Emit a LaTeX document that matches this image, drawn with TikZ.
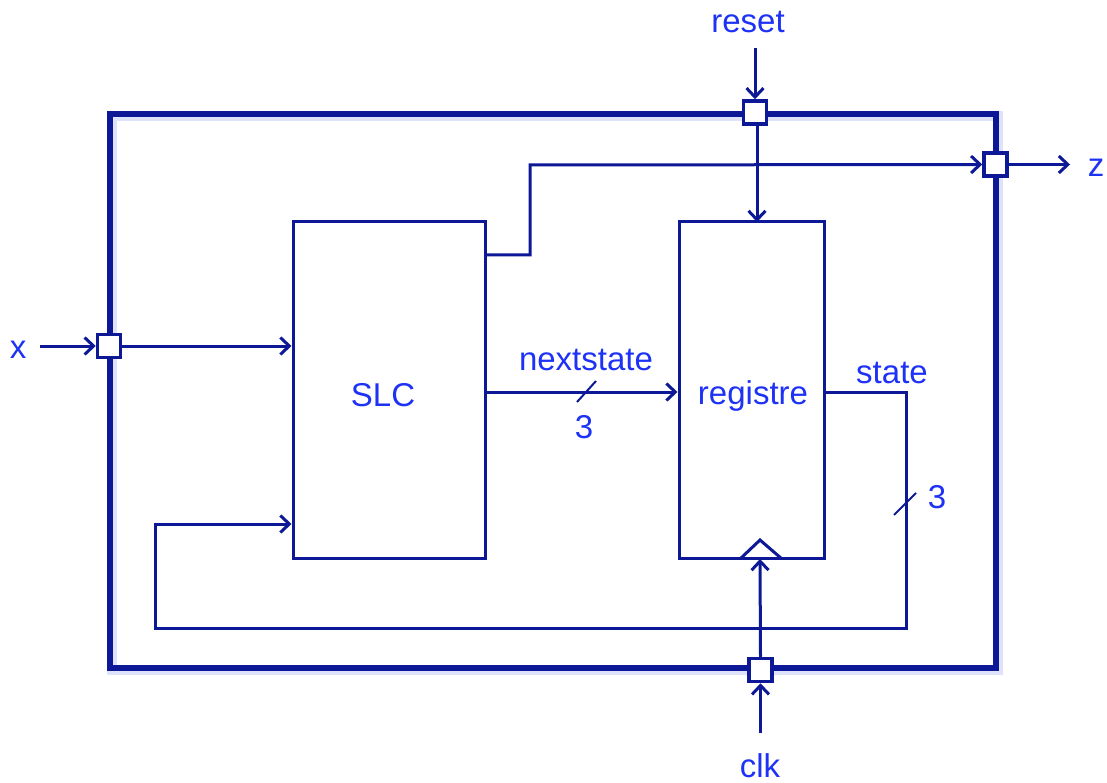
\documentclass[tikz,border=0pt]{standalone}
\usepackage{fontspec}
\setmainfont{Liberation Sans}
\usetikzlibrary{arrows.meta}
\definecolor{linecol}{RGB}{12,24,150}
\definecolor{textcol}{RGB}{30,50,245}
\definecolor{glowcol}{RGB}{222,226,250}
\tikzset{
  lbl/.style={text=textcol,font=\fontsize{33}{36}\selectfont,inner sep=0pt},
  blk/.style={draw=linecol,line width=3pt,fill=white,inner sep=0pt},
  port/.style={draw=linecol,line width=3.5pt,fill=white,minimum size=23pt,inner sep=0pt},
  wire/.style={draw=linecol,line width=3pt},
  arr/.style={wire,-{Straight Barb[length=9pt,width=17pt,line width=3pt]}},
  frame/.style={draw=linecol,line width=6.5pt},
  glow/.style={draw=glowcol,line width=10pt},
  slash/.style={draw=linecol,line width=2pt}
}
\begin{document}
\begin{tikzpicture}[x=1pt,y=-1pt]
\useasboundingbox (0,0) rectangle (1107,783);
% outer frame with soft shadow
\draw[glow] (112,116) rectangle (998,670);
\draw[frame] (110,114) rectangle (996,668);
% blocks
\node[blk,minimum width=192pt,minimum height=336pt] (slc) at (389,390) {};
\node[lbl] at (383,395) {SLC};
\node[blk,minimum width=145pt,minimum height=336pt] (reg) at (751.5,390) {};
\node[lbl] at (753,396) {registre};
% clock triangle
\coordinate (clktri) at (760,559);
\draw[wire,line join=miter] (740,559) -- (760,540) -- (782,559);
% ports
\node[port] (rp) at (755,112.5) {};
\node[port] (zp) at (995.5,164.5) {};
\node[port] (xp) at (109,346) {};
\node[port] (cp) at (760.5,670) {};
% external labels
\node[lbl] (resetl) at (748,22) {reset};
\node[lbl] (zl) at (1096,168) {z};
\node[lbl] (xl) at (18,350) {x};
\node[lbl] (clkl) at (760,766) {clk};
\coordinate (resetin) at (755,48);
\coordinate (xin) at (40,346);
\coordinate (zout) at (1070,164.5);
\coordinate (clkin) at (760.5,733);
% reset
\draw[arr] (resetin) -- (rp.north);
\draw[arr] (757,125) -- (757,222);
% x
\draw[arr] (xin) -- (xp.west);
\draw[arr] (xp.east) -- (xp.east -| slc.west);
% z
\coordinate (zbend1) at (530,255);
\coordinate (zbend2) at (530,165);
\draw[arr] (zbend1 -| slc.east) -- (zbend1) -- (zbend2) -- (zp.west);
\draw[arr] (zp.east) -- (zout);
% nextstate
\coordinate (nsy) at (0,392);
\draw[arr] (nsy -| slc.east) -- (nsy -| reg.west);
\draw[slash] (577,402) -- (596,381);
\node[lbl] at (586,360) {nextstate};
\node[lbl] at (584,427) {3};
% state feedback
\coordinate (st1) at (906,392);
\coordinate (st2) at (906,628);
\coordinate (st3) at (155,628);
\coordinate (st4) at (155,524);
\draw[arr] (st1 -| reg.east) -- (st1) -- (st2) -- (st3) -- (st4) -- (st4 -| slc.west);
\draw[slash] (894,515) -- (916,493);
\node[lbl] at (892,373) {state};
\node[lbl] at (937,497) {3};
% clock
\draw[arr] (clkin) -- (cp.south);
\draw[arr] (cp.north) -- (clktri);
\end{tikzpicture}
\end{document}
